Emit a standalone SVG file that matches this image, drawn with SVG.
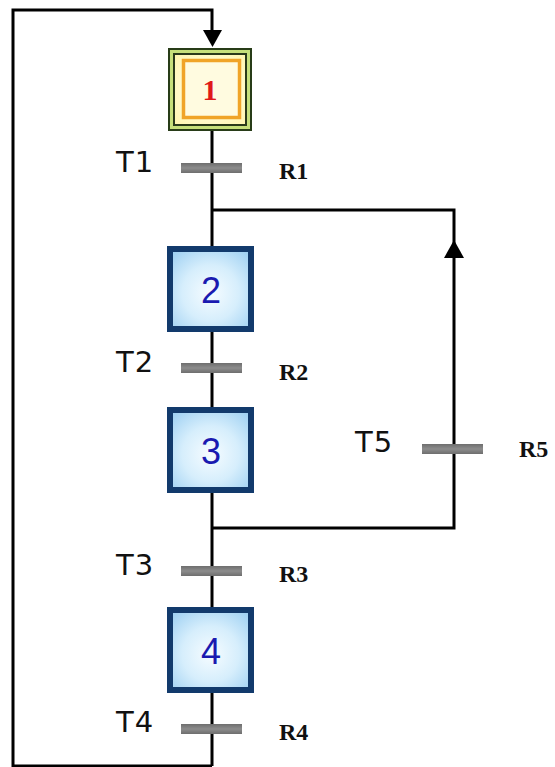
<svg xmlns="http://www.w3.org/2000/svg" width="555" height="767" viewBox="0 0 555 767">
  <style>
    .wire { fill: none; stroke: #000; stroke-width: 3; }
    .bar { fill: url(#barFill); }
    .tlabel { font-family: "DejaVu Sans", sans-serif; font-size: 29px; fill: #111; letter-spacing: 1px; }
    .rlabel { font-family: "Liberation Serif", serif; font-size: 24px; font-weight: bold; fill: #111; }
    .step { fill: url(#stepFill); stroke: #123a6c; stroke-width: 6; }
    .num { font-family: "Liberation Sans", sans-serif; font-size: 36px; fill: #1a1ab0; text-anchor: middle; }
  </style>
  <defs>
    <radialGradient id="stepFill" cx="0.5" cy="0.55" r="0.7">
      <stop offset="0" stop-color="#f6fcff"/>
      <stop offset="0.5" stop-color="#d6eefc"/>
      <stop offset="1" stop-color="#9ccff2"/>
    </radialGradient>
    <radialGradient id="initFill" cx="0.5" cy="0.5" r="0.7">
      <stop offset="0" stop-color="#fffff4"/>
      <stop offset="1" stop-color="#fff6b0"/>
    </radialGradient>
    <linearGradient id="barFill" x1="0" y1="0" x2="0" y2="1">
      <stop offset="0" stop-color="#6e6e6e"/>
      <stop offset="0.5" stop-color="#8c8c8c"/>
      <stop offset="1" stop-color="#6e6e6e"/>
    </linearGradient>
  </defs>

  <!-- connectors -->
  <g id="connectors">
    <!-- main chain -->
    <path class="wire" d="M212 131 V766"/>
    <!-- return from T4 to initial step -->
    <path class="wire" d="M212 766 H13 V10 H212 V32"/>
    <polygon points="203,30 222,30 212.5,47" fill="#000"/>
    <!-- T5 loop back to step 2 -->
    <path class="wire" d="M212 528 H454 V210 H212"/>
    <polygon points="444,258 464,258 454,240" fill="#000"/>
  </g>

  <!-- transitions -->
  <g id="T1">
    <rect class="bar" x="181" y="163" width="61" height="10"/>
    <text class="tlabel" x="116" y="172">T1</text>
    <text class="rlabel" x="279" y="179">R1</text>
  </g>
  <g id="T2">
    <rect class="bar" x="181" y="363" width="61" height="10"/>
    <text class="tlabel" x="116" y="372">T2</text>
    <text class="rlabel" x="279" y="380">R2</text>
  </g>
  <g id="T3">
    <rect class="bar" x="181" y="566" width="61" height="10"/>
    <text class="tlabel" x="116" y="575">T3</text>
    <text class="rlabel" x="279" y="582">R3</text>
  </g>
  <g id="T4">
    <rect class="bar" x="181" y="724" width="61" height="10"/>
    <text class="tlabel" x="116" y="732">T4</text>
    <text class="rlabel" x="279" y="740">R4</text>
  </g>
  <g id="T5">
    <rect class="bar" x="422" y="444" width="61" height="10"/>
    <text class="tlabel" x="355" y="452">T5</text>
    <text class="rlabel" x="519" y="457">R5</text>
  </g>

  <!-- initial step -->
  <g id="step1">
    <rect x="168" y="48" width="84" height="83" fill="#283c18"/>
    <rect x="170" y="50" width="80" height="79" fill="#c6e07a"/>
    <rect x="173" y="53" width="74" height="73" fill="#2a3a1a"/>
    <rect x="175" y="55" width="70" height="69" fill="url(#initFill)"/>
    <rect x="183.5" y="60.5" width="56" height="57" fill="#fffbe0" stroke="#f0a428" stroke-width="3.5"/>
    <text x="210" y="100" font-family="Liberation Serif, serif" font-size="30" font-weight="bold" fill="#e01818" text-anchor="middle">1</text>
  </g>

  <!-- regular steps -->
  <g id="step2">
    <rect class="step" x="170" y="249" width="81" height="80"/>
    <text class="num" x="211" y="303">2</text>
  </g>
  <g id="step3">
    <rect class="step" x="170" y="410" width="81" height="80"/>
    <text class="num" x="211" y="464">3</text>
  </g>
  <g id="step4">
    <rect class="step" x="170" y="610" width="81" height="80"/>
    <text class="num" x="211" y="664">4</text>
  </g>
</svg>
